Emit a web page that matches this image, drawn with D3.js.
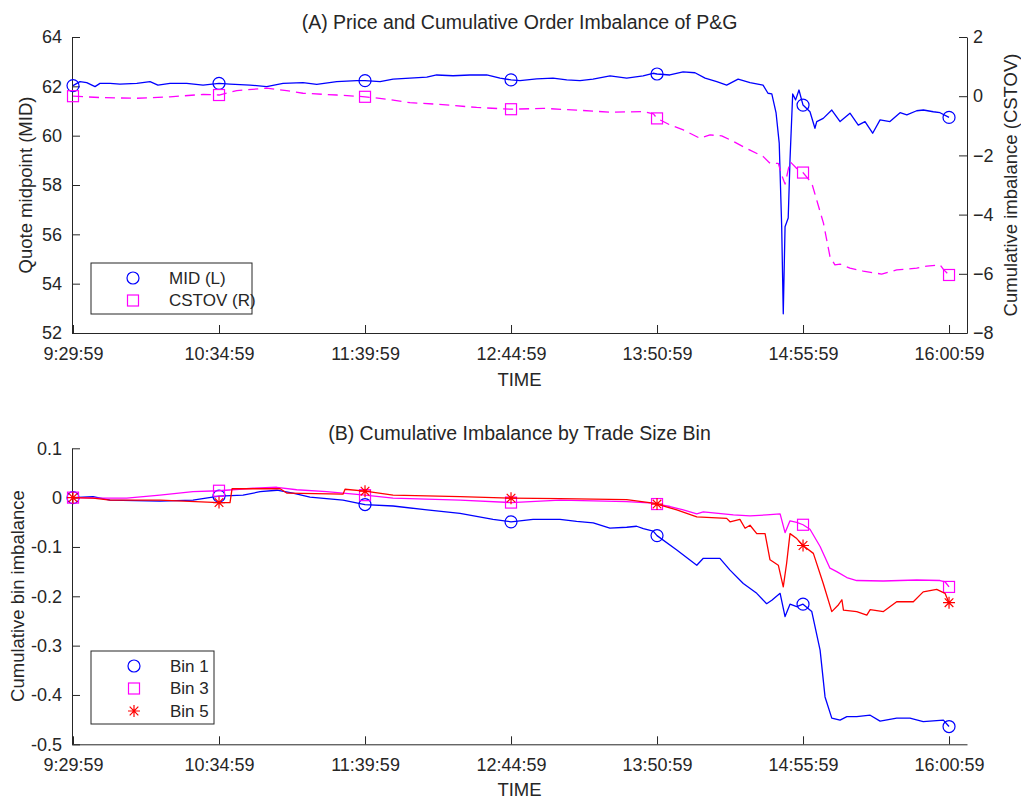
<!DOCTYPE html>
<html>
<head>
<meta charset="utf-8">
<script src="https://cdn.jsdelivr.net/npm/d3@7"></script>
<style>
  body { margin: 0; background: #fff; }
  text { font-family: "Liberation Sans", Arial, Helvetica, sans-serif; fill: #262626; }
</style>
</head>
<body>
<div id="chart"></div>
<script>
// time axis: minutes after 9:29:59
const timeTicks = [0, 65, 130, 195, 260, 325, 390];
const timeLabels = ["9:29:59", "10:34:59", "11:39:59", "12:44:59", "13:50:59", "14:55:59", "16:00:59"];

const midTicks = [52, 54, 56, 58, 60, 62, 64];
const cstovTicks = [-8, -6, -4, -2, 0, 2];
const binTicks = [-0.5, -0.4, -0.3, -0.2, -0.1, 0, 0.1];
const binTickLabels = ["-0.5", "-0.4", "-0.3", "-0.2", "-0.1", "0", "0.1"];

// [minute, value]
const midSeries = [[0,62.03],[3.1,62.19],[6.1,62.15],[9.8,61.99],[12,62.12],[16.5,62.12],[20.9,62.09],[28.4,62.12],
  [34.3,62.19],[37.8,62.05],[43.2,62.12],[50.6,62.12],[57.9,62.05],[65,62.12],[69.9,62.09],[78.8,62.05],[86.2,61.99],
  [93.5,62.12],[102.4,62.15],[108.5,62.08],[117.4,62.19],[126.3,62.23],[130,62.23],[136.7,62.19],[142.5,62.29],
  [150,62.33],[157.5,62.37],[161.9,62.46],[169.2,62.43],[176.7,62.46],[184.2,62.46],[190.1,62.33],[195,62.26],
  [199,62.23],[206.4,62.30],[213.7,62.33],[219.8,62.26],[225.7,62.23],[231.5,62.29],[239.1,62.42],[246.5,62.33],
  [253.8,62.42],[258.2,62.53],[260,62.50],[265.7,62.46],[271.6,62.59],[276.9,62.55],[281.4,62.33],[286.6,62.19],
  [291,62.05],[296.1,62.29],[301.4,62.15],[307.2,62.05],[309.4,61.72],[311.1,61.69],[313,60.92],[314.4,59.70],
  [315.5,56.31],[316.2,52.78],[317,56.31],[318.4,56.66],[319.2,59.01],[320.4,61.69],[321.7,61.45],[323.2,61.85],
  [325,61.24],[328.1,60.97],[330.3,60.30],[331.1,60.57],[334,60.70],[337.8,61.04],[341.5,60.57],[345.9,60.91],
  [349.6,60.43],[352.6,60.57],[356,60.10],[359.3,60.64],[363.7,60.57],[368.2,60.93],[371.2,60.84],[375.6,61.01],
  [378.6,61.04],[383,60.97],[386,60.93],[390,60.74]];

const cstovSeries = [[0,0.0],[13.4,-0.05],[28.4,-0.07],[43.2,-0.02],[57.9,0.06],[65,0.04],[72.9,0.19],[86.2,0.27],
  [95.1,0.19],[102.4,0.10],[117.4,0.04],[130,-0.02],[139.7,-0.10],[150,-0.22],[161.9,-0.27],[179.7,-0.38],
  [195,-0.44],[209.4,-0.41],[224.2,-0.47],[239.1,-0.54],[253.9,-0.52],[258.4,-0.60],[260,-0.75],[265.8,-0.97],
  [271.7,-1.14],[279.1,-1.42],[283.6,-1.31],[288.8,-1.34],[293.3,-1.50],[298.4,-1.71],[301.4,-1.82],[307.3,-2.04],
  [310.3,-2.27],[314,-2.27],[315.5,-2.66],[317,-2.97],[319.2,-2.21],[322.2,-2.44],[325,-2.58],[328.9,-2.94],
  [331.1,-3.51],[334.1,-4.29],[337,-5.42],[339.2,-5.70],[341.5,-5.67],[345.9,-5.81],[351.8,-5.91],[360,-6.01],
  [366.7,-5.87],[375.6,-5.81],[380.1,-5.74],[386,-5.70],[387.5,-5.85],[390,-6.04]];

const bin1Series = [[0,0],[8.9,0.002],[16.5,-0.005],[38.7,-0.007],[53.4,-0.005],[65,0.003],[75.7,0.005],[83.3,0.012],
  [90.8,0.015],[97.9,0.009],[105.5,0.001],[120.2,-0.005],[130,-0.014],[142.5,-0.017],[157.6,-0.025],[172.3,-0.032],
  [187,-0.044],[195,-0.049],[204.8,-0.044],[216.8,-0.044],[224.2,-0.048],[231.6,-0.051],[239,-0.062],[246.5,-0.060],
  [250.9,-0.058],[253.9,-0.063],[258.3,-0.068],[260,-0.077],[268.8,-0.106],[277.7,-0.137],[280.6,-0.123],[288,-0.123],
  [292.5,-0.147],[298.4,-0.174],[304.4,-0.194],[308.8,-0.215],[311.1,-0.208],[314.8,-0.194],[317,-0.241],[319.2,-0.216],
  [322.2,-0.221],[325,-0.216],[328.9,-0.231],[332.6,-0.309],[334.8,-0.404],[337.8,-0.447],[341.5,-0.451],[344.5,-0.444],
  [348.9,-0.444],[354.9,-0.441],[359.3,-0.453],[366.7,-0.447],[372.6,-0.447],[378.5,-0.454],[387.5,-0.451],[390,-0.464]];

const bin3Series = [[0,0],[8.9,-0.001],[23.9,-0.001],[38.7,0.005],[53.4,0.012],[65,0.014],[80.1,0.019],[90.7,0.021],
  [99.6,0.016],[112.9,0.012],[130,0.005],[142.5,-0.001],[172.3,-0.005],[195,-0.010],[216.8,-0.005],[246.5,-0.008],
  [258.3,-0.011],[260,-0.013],[265.8,-0.018],[271.7,-0.025],[277.7,-0.033],[280.6,-0.029],[294,-0.035],[301.4,-0.037],
  [308.8,-0.035],[314.8,-0.033],[317,-0.071],[319.2,-0.047],[322.2,-0.050],[325,-0.055],[328.1,-0.064],[332.6,-0.099],
  [337,-0.143],[340,-0.150],[344.5,-0.162],[348.9,-0.168],[360.7,-0.169],[375.6,-0.167],[386,-0.168],[388.3,-0.171],
  [390,-0.181]];

const bin5Series = [[0,0],[8.9,-0.001],[16.5,-0.005],[38.7,-0.005],[65,-0.010],[69.9,-0.010],[70.8,0.018],[92.2,0.018],
  [95.3,0.009],[120.2,0.007],[121.1,0.017],[130,0.013],[142.5,0.005],[172.3,0.002],[195,-0.001],[216.8,-0.002],
  [246.5,-0.004],[258.3,-0.011],[260,-0.013],[268.8,-0.025],[277.7,-0.039],[291,-0.042],[292.5,-0.049],[296.9,-0.044],
  [299.2,-0.062],[301.4,-0.056],[304.4,-0.073],[308.1,-0.073],[310.3,-0.126],[314,-0.137],[316.2,-0.181],[317.7,-0.133],
  [319.2,-0.073],[322.2,-0.083],[325,-0.097],[329.6,-0.113],[334,-0.174],[337.8,-0.231],[340.8,-0.217],[342.3,-0.207],
  [343,-0.228],[348.9,-0.231],[353.4,-0.238],[354.9,-0.227],[360.8,-0.231],[366.7,-0.211],[374.1,-0.211],[378.5,-0.191],
  [384.5,-0.186],[388.2,-0.194],[390,-0.213]];

const axisColor = "#262626";
const tickLen = 8;
const tickFont = "18px";
const labelFont = "18.5px";
const titleFont = "19.5px";
const legendFont = "17px";

const svg = d3.select("#chart").append("svg")
  .attr("width", 1021).attr("height", 799);

const x = d3.scaleLinear().domain([-0.45, 398]).range([72, 967]);

// ---------- markers ----------
function drawMarker(g, kind, cx, cy, color) {
  if (kind === "circle") {
    g.append("circle").attr("cx", cx).attr("cy", cy).attr("r", 6)
      .attr("fill", "none").attr("stroke", color).attr("stroke-width", 1.2);
  } else if (kind === "square") {
    g.append("rect").attr("x", cx - 5.5).attr("y", cy - 5.5).attr("width", 11).attr("height", 11)
      .attr("fill", "none").attr("stroke", color).attr("stroke-width", 1.2);
  } else {
    const r = 6, d = r * 0.72;
    const p = `M${cx-r},${cy}L${cx+r},${cy}M${cx},${cy-r}L${cx},${cy+r}M${cx-d},${cy-d}L${cx+d},${cy+d}M${cx-d},${cy+d}L${cx+d},${cy-d}`;
    g.append("path").attr("d", p).attr("stroke", color).attr("stroke-width", 1.2).attr("fill", "none");
  }
}

function drawSeries(g, data, y, color, kind, dash) {
  g.append("path").datum(data)
    .attr("d", d3.line().x(d => x(d[0])).y(d => y(d[1])))
    .attr("fill", "none").attr("stroke", color).attr("stroke-width", 1.3)
    .attr("stroke-linejoin", "round")
    .attr("stroke-dasharray", dash || null);
  data.filter(d => timeTicks.includes(d[0]))
    .forEach(d => drawMarker(g, kind, x(d[0]), y(d[1]), color));
}

function styleAxis(sel) {
  sel.selectAll("path, line").attr("stroke", axisColor).attr("stroke-width", 1);
  sel.selectAll("text").style("font-size", tickFont).attr("fill", axisColor);
}

function xAxis(bottom) {
  const ax = svg.append("g").attr("transform", `translate(0,${bottom})`)
    .call(d3.axisBottom(x).tickValues(timeTicks).tickFormat((d, i) => timeLabels[i])
      .tickSizeInner(-tickLen).tickSizeOuter(0).tickPadding(14));
  styleAxis(ax);
}

// ---------- panel A ----------
const topA = 37, botA = 333;
const yMid = d3.scaleLinear().domain([52, 64]).range([botA, topA]);
const yCst = d3.scaleLinear().domain([-8, 2]).range([botA, topA]);

const axL = svg.append("g").attr("transform", "translate(72,0)")
  .call(d3.axisLeft(yMid).tickValues(midTicks).tickSizeInner(-tickLen).tickSizeOuter(0).tickPadding(10));
styleAxis(axL);
const axR = svg.append("g").attr("transform", "translate(967,0)")
  .call(d3.axisRight(yCst).tickValues(cstovTicks).tickSizeInner(-tickLen).tickSizeOuter(0).tickPadding(6));
styleAxis(axR);
xAxis(botA);

const gA = svg.append("g");
drawSeries(gA, midSeries, yMid, "#0000ff", "circle");
drawSeries(gA, cstovSeries, yCst, "#ff00ff", "square", "10,6");

svg.append("text").attr("x", 519.5).attr("y", 22).attr("text-anchor", "middle")
  .attr("dominant-baseline", "central").style("font-size", titleFont).attr("fill", "#000")
  .text("(A) Price and Cumulative Order Imbalance of P&G");
svg.append("text").attr("x", 519.5).attr("y", 379).attr("text-anchor", "middle")
  .attr("dominant-baseline", "central").style("font-size", labelFont).text("TIME");
svg.append("text").attr("transform", "translate(25,185) rotate(-90)").attr("text-anchor", "middle")
  .attr("dominant-baseline", "central").style("font-size", labelFont).text("Quote midpoint (MID)");
svg.append("text").attr("transform", "translate(1010,185) rotate(-90)").attr("text-anchor", "middle")
  .attr("dominant-baseline", "central").style("font-size", labelFont).text("Cumulative imbalance (CSTOV)");

// legend A
const legA = svg.append("g");
legA.append("rect").attr("x", 91).attr("y", 263).attr("width", 161).attr("height", 51)
  .attr("fill", "#fff").attr("stroke", axisColor).attr("stroke-width", 1);
[["MID (L)", "#0000ff", "circle"], ["CSTOV (R)", "#ff00ff", "square"]].forEach((e, i) => {
  const cy = 278 + i * 22.5;
  drawMarker(legA, e[2], 133, cy, e[1]);
  legA.append("text").attr("x", 169).attr("y", cy).attr("dominant-baseline", "central")
    .style("font-size", legendFont).text(e[0]);
});

// ---------- panel B ----------
const topB = 448.3, botB = 744.3;
const yBin = d3.scaleLinear().domain([-0.5, 0.1]).range([botB, topB]);

const axB = svg.append("g").attr("transform", "translate(72,0)")
  .call(d3.axisLeft(yBin).tickValues(binTicks).tickFormat((d, i) => binTickLabels[i])
    .tickSizeInner(-tickLen).tickSizeOuter(0).tickPadding(10));
styleAxis(axB);
xAxis(botB);

const gB = svg.append("g");
drawSeries(gB, bin1Series, yBin, "#0000ff", "circle");
drawSeries(gB, bin3Series, yBin, "#ff00ff", "square");
drawSeries(gB, bin5Series, yBin, "#ff0000", "star");

svg.append("text").attr("x", 519.5).attr("y", 433).attr("text-anchor", "middle")
  .attr("dominant-baseline", "central").style("font-size", titleFont).attr("fill", "#000")
  .text("(B) Cumulative Imbalance by Trade Size Bin");
svg.append("text").attr("x", 519.5).attr("y", 789).attr("text-anchor", "middle")
  .attr("dominant-baseline", "central").style("font-size", labelFont).text("TIME");
svg.append("text").attr("transform", "translate(17,596) rotate(-90)").attr("text-anchor", "middle")
  .attr("dominant-baseline", "central").style("font-size", labelFont).text("Cumulative bin imbalance");

// legend B
const legB = svg.append("g");
legB.append("rect").attr("x", 91).attr("y", 651).attr("width", 123).attr("height", 73)
  .attr("fill", "#fff").attr("stroke", axisColor).attr("stroke-width", 1);
[["Bin 1", "#0000ff", "circle"], ["Bin 3", "#ff00ff", "square"], ["Bin 5", "#ff0000", "star"]].forEach((e, i) => {
  const cy = 666 + i * 22.5;
  drawMarker(legB, e[2], 134, cy, e[1]);
  legB.append("text").attr("x", 170).attr("y", cy).attr("dominant-baseline", "central")
    .style("font-size", legendFont).text(e[0]);
});
</script>
</body>
</html>
